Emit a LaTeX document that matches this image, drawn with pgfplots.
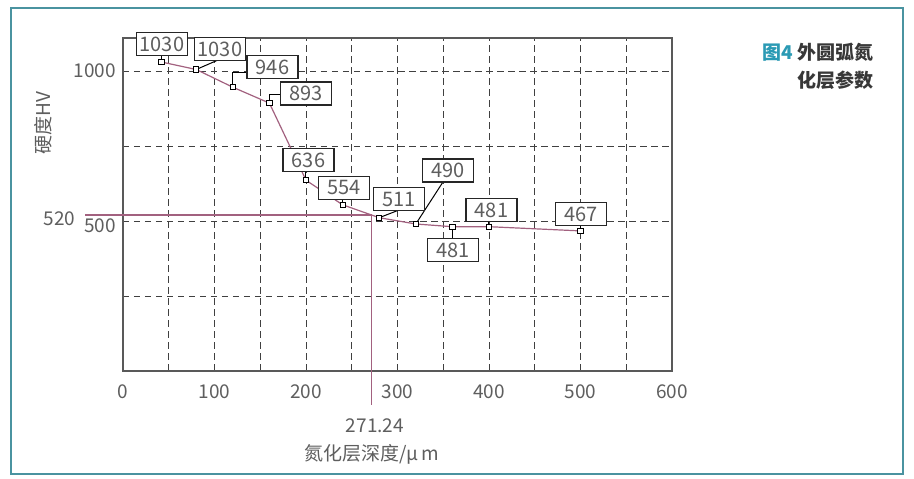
\documentclass[border=0pt]{standalone}
\usepackage{fontspec}
\setmainfont{Noto Sans CJK SC}
\usepackage{pgfplots}
\pgfplotsset{compat=1.18}

\definecolor{curve}{HTML}{A2617F}
\definecolor{frame}{HTML}{4A93A0}
\definecolor{teal}{HTML}{2B9AB4}
\definecolor{txt}{HTML}{5E5E5E}

\tikzset{
  lbl/.style={draw=black!85, line width=1.2pt, fill=white, text=txt,
    minimum width=51pt, minimum height=23pt, inner sep=0pt,
    font=\fontsize{20}{20}\selectfont},
  lead/.style={black, line width=1pt}
}

\begin{document}
\begin{tikzpicture}
\begin{axis}[
    scale only axis,
    width=549pt, height=333pt,
    xmin=0, xmax=600,
    ymin=0, ymax=1110,
    xtick={0,100,...,600},
    minor xtick={50,150,...,550},
    ytick={500,1000},
    yticklabels={\raisebox{-5pt}{500},1000},
    minor ytick={250,750},
    grid=both,
    major grid style={black!75, line width=0.9pt, dash pattern=on 6.5pt off 4.5pt},
    minor grid style={black!75, line width=0.9pt, dash pattern=on 6.5pt off 4.5pt},
    tick style={draw=none},
    axis line style={black!65, line width=1.5pt},
    /pgf/number format/assume math mode=true,
    /pgf/number format/1000 sep={},
    ticklabel style={font=\fontsize{19}{19}\selectfont, text=txt},
    xticklabel style={anchor=center, yshift=-21pt},
    yticklabel style={anchor=base east, inner sep=0pt, xshift=-7pt, yshift=-7pt},
    clip=false,
]

% 520 HV reference
\draw[curve, line width=1.2pt] (axis cs:-41.5,520) -- (axis cs:271.24,520) -- (axis cs:271.24,-113);

% hardness curve
\addplot[curve, line width=1.2pt] coordinates {
    (42, 1030)
    (80, 1005)
    (120, 946)
    (160, 893)
    (200, 636)
    (240, 554)
    (280, 511)
    (320, 490)
    (360, 481)
    (400, 481)
    (500, 467)
};

% leaders
\draw[lead] (axis cs:42,1030) -- (axis cs:42,1052);
\draw[lead] (axis cs:80,1005) -- (axis cs:102.7,1035);
\draw[lead] (axis cs:120,946) -- (axis cs:120,994) -- (axis cs:135.5,994);
\draw[lead] (axis cs:160,893) -- (axis cs:160,923) -- (axis cs:171.6,923);
\draw[lead] (axis cs:200,636) -- (axis cs:200,665);
\draw[lead] (axis cs:240,554) -- (axis cs:240,572);
\draw[lead] (axis cs:280,511) -- (axis cs:299.5,534);
\draw[lead] (axis cs:320,490) -- (axis cs:349.7,630);
\draw[lead] (axis cs:360,481) -- (axis cs:360,441);
\draw[lead] (axis cs:400,481) -- (axis cs:400,499);
\draw[lead] (axis cs:500,467) -- (axis cs:500,485);

% value boxes
\node[lbl] at (axis cs:42.6,1090) {1030};
\node[lbl] at (axis cs:106,1073) {1030};
\node[lbl] at (axis cs:163.4,1012) {946};
\node[lbl] at (axis cs:200,925) {893};
\node[lbl] at (axis cs:202.7,703) {636};
\node[lbl] at (axis cs:241.5,610) {554};
\node[lbl] at (axis cs:301.6,572) {511};
\node[lbl] at (axis cs:355.2,668) {490};
\node[lbl] at (axis cs:360.7,403) {481};
\node[lbl] at (axis cs:402.7,537) {481};
\node[lbl] at (axis cs:500.5,523) {467};

% markers on top
\addplot[only marks, mark=square*, mark size=2.6pt,
    mark options={fill=white, draw=black, line width=0.9pt}] coordinates {
    (42, 1030)
    (80, 1005)
    (120, 946)
    (160, 893)
    (200, 636)
    (240, 554)
    (280, 511)
    (320, 490)
    (360, 481)
    (400, 481)
    (500, 467)
};

% texts
\node[anchor=east, text=txt, font=\fontsize{19}{19}\selectfont] at (axis cs:-48,507) {520};
\node[text=txt, font=\fontsize{19}{19}\selectfont] at (axis cs:275.4,-182) {271.24};
\node[text=txt, font=\fontsize{19}{19}\selectfont] at (axis cs:272,-277) {氮化层深度/μ\,m};
\node[text=txt, rotate=90, font=\fontsize{19}{19}\selectfont] at (axis cs:-87.4,827) {硬度HV};

\end{axis}

% title
\node[anchor=east, font=\fontsize{19}{19}\selectfont\bfseries, text=black!78] at (754pt,319pt) {\textcolor{teal}{图4} 外圆弧氮};
\node[anchor=east, font=\fontsize{19}{19}\selectfont\bfseries, text=black!78] at (754pt,291pt) {化层参数};

% outer frame
\draw[frame, line width=1.5pt] (-112pt,-103pt) rectangle (780pt,363pt);

\pgfresetboundingbox
\useasboundingbox (-123pt,-108pt) rectangle (791pt,371pt);
\end{tikzpicture}
\end{document}
